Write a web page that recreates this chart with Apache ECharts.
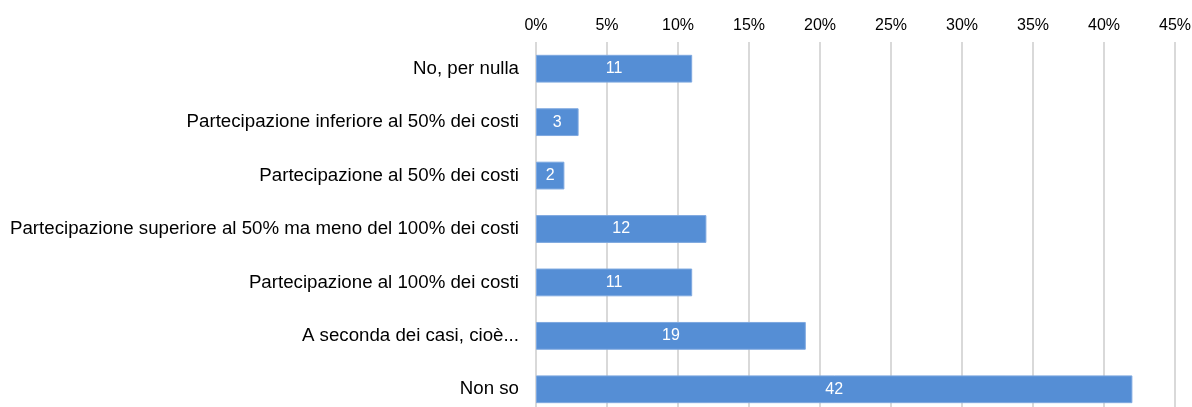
<!DOCTYPE html>
<html>
<head>
<meta charset="utf-8">
<script src="https://cdn.jsdelivr.net/npm/echarts@6/dist/echarts.min.js"></script>
<style>
  html, body { margin: 0; padding: 0; background: #fff; }
  #main { width: 1192px; height: 407px; }
</style>
</head>
<body>
<div id="main"></div>
<script>
var categories = [
    'No, per nulla',
    'Partecipazione inferiore al 50% dei costi',
    'Partecipazione al 50% dei costi',
    'Partecipazione superiore al 50% ma meno del 100% dei costi',
    'Partecipazione al 100% dei costi',
    'A seconda dei casi, cioè...',
    'Non so'
];
var values = [11, 3, 2, 12, 11, 19, 42];
var tickMax = 45;
var tickStep = 5;

var myChart = echarts.init(document.getElementById('main'));
var option = {
    animation: false,
    // il grafico originale e' tagliato in basso, quindi l'area va oltre il bordo
    grid: {
        left: 536, top: 42, width: 639, height: 374,
        containLabel: false,
        outerBoundsMode: 'none'
    },
    xAxis: {
        type: 'value',
        position: 'top',
        min: 0,
        max: tickMax,
        interval: tickStep,
        axisLine: { show: false },
        axisTick: { show: false },
        axisLabel: {
            formatter: '{value}%',
            color: '#000',
            fontFamily: 'Liberation Sans',
            fontSize: 16,
            margin: 8
        },
        splitLine: { lineStyle: { color: '#d9d9d9', width: 2 } }
    },
    yAxis: {
        type: 'category',
        inverse: true,
        data: categories,
        axisLine: { show: false },
        axisTick: { show: false },
        axisLabel: {
            color: '#000',
            fontFamily: 'Liberation Sans',
            fontSize: 18.7,
            margin: 17
        }
    },
    series: [{
        type: 'bar',
        data: values,
        barWidth: '52%',
        itemStyle: { color: '#558ed5', borderColor: '#7fa9e0', borderWidth: 1 },
        label: {
            show: true,
            position: 'inside',
            color: '#fff',
            fontFamily: 'Liberation Sans',
            fontSize: 16
        }
    }]
};
myChart.setOption(option);
</script>
</body>
</html>
